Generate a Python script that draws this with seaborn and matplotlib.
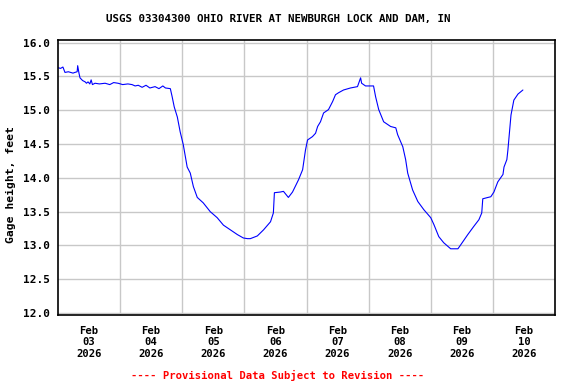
import numpy as np
import pandas as pd
import matplotlib
matplotlib.use("Agg")
import matplotlib.pyplot as plt
import seaborn as sns

# hours since 2026-02-03 00:00 and gage height (ft)
hours = (
    [0.0, 1.0, 1.9, 2.3, 2.7, 4.0, 5.8, 6.5, 7.4, 7.6, 8.1, 8.5, 9.5, 10.5, 11.0,
     11.6, 12.3, 12.8, 13.3, 14.3]
    + [16.0, 18.2, 20.0, 21.5, 23.2, 25.0, 27.0, 28.6, 29.8, 31.0, 32.5, 34.0, 35.5,
       37.5, 39.0, 40.5, 41.5, 43.4]
    + [44.1, 44.9, 46.1, 47.2, 48.4, 49.9, 51.1, 52.3, 53.8, 56.1, 58.8, 61.5, 63.9,
       66.6, 69.3, 71.6, 73.2, 74.3, 77.0, 79.4, 82.1, 83.2]
    + [83.6, 85.9, 87.1, 89.0, 90.6, 92.9, 94.5, 95.6, 96.4, 98.3, 99.5, 100.3, 101.4,
       102.6, 104.5, 106.1, 107.2, 108.4, 110.3, 113.0, 115.7, 116.9, 117.3, 118.8, 121.9]
    + [122.7, 123.9, 125.8, 128.5, 130.5, 131.2, 133.2, 134.3, 135.1, 137.0, 139.0,
       141.3, 144.0, 145.2, 147.1, 149.0, 151.7, 154.5]
    + [155.6, 158.3, 160.6, 162.6, 163.7, 164.1, 166.1, 167.2, 168.4, 169.9, 171.9,
       172.3, 173.4, 173.8, 175.0, 176.1, 177.7, 179.6]
)
height = (
    [15.63, 15.62, 15.64, 15.60, 15.56, 15.57, 15.55, 15.56, 15.57, 15.66, 15.55,
     15.48, 15.44, 15.42, 15.40, 15.42, 15.39, 15.45, 15.38, 15.40]
    + [15.39, 15.40, 15.38, 15.41, 15.40, 15.38, 15.39, 15.38, 15.36, 15.37, 15.34,
       15.37, 15.33, 15.35, 15.32, 15.36, 15.33, 15.32]
    + [15.20, 15.05, 14.90, 14.68, 14.49, 14.16, 14.07, 13.87, 13.71, 13.63, 13.50,
       13.41, 13.30, 13.23, 13.16, 13.11, 13.10, 13.10, 13.14, 13.23, 13.35, 13.48]
    + [13.78, 13.79, 13.80, 13.71, 13.79, 13.97, 14.12, 14.41, 14.56, 14.61, 14.66,
       14.76, 14.83, 14.96, 15.01, 15.13, 15.23, 15.26, 15.30, 15.33, 15.35, 15.48,
       15.40, 15.36, 15.36]
    + [15.20, 15.01, 14.83, 14.76, 14.74, 14.64, 14.46, 14.27, 14.07, 13.82, 13.65,
       13.53, 13.41, 13.31, 13.13, 13.04, 12.95, 12.95]
    + [13.01, 13.16, 13.28, 13.38, 13.48, 13.69, 13.71, 13.72, 13.79, 13.94, 14.05,
       14.16, 14.27, 14.41, 14.93, 15.15, 15.24, 15.30]
)

df = pd.DataFrame({
    "time": pd.Timestamp("2026-02-03") + pd.to_timedelta(hours, unit="h"),
    "height": height,
})

sns.set_style("white")
plt.rcParams["font.family"] = ["DejaVu Sans Mono"]
plt.rcParams["font.weight"] = "bold"
plt.rcParams["text.color"] = "black"
plt.rcParams["axes.labelcolor"] = "black"
plt.rcParams["xtick.color"] = "black"
plt.rcParams["ytick.color"] = "black"

fig = plt.figure(figsize=(5.76, 3.84), dpi=100)
ax = fig.add_axes([58 / 576, 1 - 315 / 384, 497 / 576, 275 / 384])

sns.lineplot(data=df, x="time", y="height", ax=ax, color="#0000ff", linewidth=0.8)

ax.set_xlim(pd.Timestamp("2026-02-03"), pd.Timestamp("2026-02-11"))
ax.set_ylim(11.97, 16.04)
yt = np.arange(12.0, 16.01, 0.5)
ax.set_yticks(yt)
ax.set_yticklabels([f"{v:.1f}" for v in yt], fontsize=8, fontweight="bold")

noon = pd.date_range("2026-02-03 12:00", periods=8, freq="D")
midnight = pd.date_range("2026-02-04", periods=7, freq="D")
ax.set_xticks(noon)
ax.set_xticklabels([d.strftime("%b\n%d\n%Y") for d in noon], fontsize=7.6,
                   fontweight="bold", linespacing=1.15)
ax.set_xticks(midnight, minor=True)
ax.tick_params(axis="x", which="both", length=0, pad=8)
ax.tick_params(axis="y", length=0, pad=6)

ax.grid(axis="y", which="major", color="#c8c8c8", linewidth=1)
ax.grid(axis="x", which="minor", color="#c8c8c8", linewidth=1)
ax.set_axisbelow(True)

for s in ax.spines.values():
    s.set_color("black")
    s.set_linewidth(1.2)

ax.set_xlabel("")
ax.set_ylabel("Gage height, feet", fontsize=8.2, fontweight="bold")
ax.yaxis.set_label_coords(-0.085, 0.473)

fig.text(278 / 576, 1 - 19 / 384, "USGS 03304300 OHIO RIVER AT NEWBURGH LOCK AND DAM, IN",
         ha="center", va="center", fontsize=7.8, fontweight="bold")
fig.text(278 / 576, 1 - 375 / 384, "---- Provisional Data Subject to Revision ----",
         ha="center", va="center", fontsize=7.6, fontweight="bold", color="red")

fig.savefig("out.png", dpi=100)
